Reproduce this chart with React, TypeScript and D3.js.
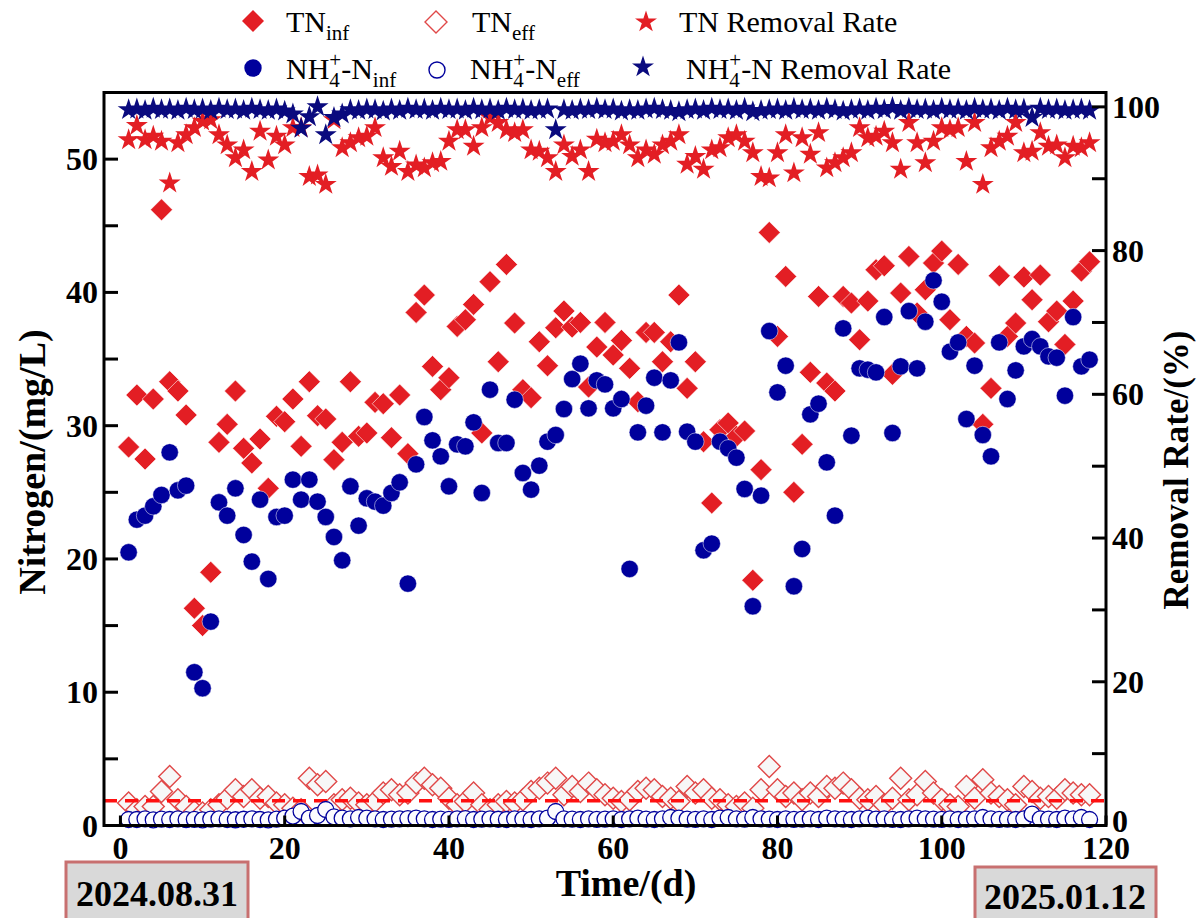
import React from 'react';
import * as d3 from 'd3';

// ---------------- DATA ----------------
const days: number[] = d3.range(1, 119);

const tnInf: number[] = [
  28.4, 32.3, 27.5, 32.0, 46.2, 33.3, 32.6, 30.8, 16.3, 15.0,
  19.0, 28.75, 30.1, 32.6, 28.3, 27.2, 29.0, 25.3, 30.7, 30.3,
  32.0, 28.45, 33.3, 30.75, 30.5, 27.45, 28.75, 33.3, 29.2, 29.45,
  31.75, 31.65, 29.1, 32.3, 27.9, 38.5, 39.8, 34.45, 32.7, 33.6,
  37.45, 37.95, 39.1, 29.45, 40.8, 34.8, 42.1, 37.7, 32.7, 32.1,
  36.3, 34.5, 37.35, 38.6, 37.4, 37.75, 32.9, 35.9, 37.75, 35.3,
  36.4, 34.3, 31.8, 37.0, 37.0, 34.8, 36.3, 39.8, 32.8, 34.8,
  28.8, 24.2, 29.7, 30.2, 29.2, 29.6, 18.4, 26.7, 44.5, 36.7,
  41.2, 25.0, 28.6, 34.0, 39.7, 33.2, 32.6, 39.7, 39.2, 36.45,
  39.35, 41.7, 42.0, 33.85, 39.95, 42.7, 38.45, 40.2, 42.2, 43.1,
  37.95, 42.1, 36.7, 36.2, 30.1, 32.8, 41.25, 36.7, 37.7, 41.15,
  39.45, 41.3, 37.8, 38.6, 36.1, 39.35, 41.6, 42.3,
];

const tnEff: number[] = [
  1.68, 1.18, 1.43, 1.43, 2.55, 3.68, 1.93, 1.43, 1.05, 0.93,
  1.18, 1.55, 2.05, 2.68, 2.18, 2.68, 2.05, 2.18, 1.68, 1.55,
  1.3, 1.18, 3.55, 3.05, 3.3, 1.55, 1.93, 2.05, 1.68, 1.55,
  1.8, 2.43, 2.68, 2.3, 2.43, 3.18, 3.55, 3.05, 2.8, 2.05,
  1.55, 1.8, 2.43, 1.55, 1.18, 1.55, 1.8, 1.68, 1.93, 2.55,
  2.8, 3.18, 3.55, 2.3, 2.93, 2.55, 3.18, 2.68, 2.3, 2.05,
  1.8, 1.93, 2.55, 2.8, 2.68, 2.18, 2.05, 1.8, 2.93, 2.43,
  2.68, 2.05, 1.93, 1.55, 1.43, 1.68, 1.3, 2.68, 4.43, 2.68,
  2.18, 2.43, 1.93, 2.43, 2.18, 2.93, 2.8, 3.18, 2.68, 2.05,
  1.93, 2.18, 1.55, 2.05, 3.55, 1.93, 2.3, 3.3, 2.43, 1.93,
  1.55, 1.43, 2.93, 2.05, 3.43, 2.43, 2.18, 1.93, 1.55, 2.93,
  2.55, 2.05, 2.18, 2.05, 2.68, 2.43, 2.3, 2.3,
];

const nh4Inf: number[] = [
  20.5, 22.95, 23.25, 23.95, 24.8, 28.0, 25.15, 25.5, 11.5, 10.3,
  15.3, 24.25, 23.25, 25.3, 21.8, 19.8, 24.45, 18.5, 23.15, 23.25,
  25.95, 24.45, 25.95, 24.3, 23.15, 21.65, 19.9, 25.45, 22.5, 24.55,
  24.3, 24.0, 24.95, 25.75, 18.15, 27.1, 30.65, 28.9, 27.7, 25.45,
  28.6, 28.45, 30.25, 24.95, 32.7, 28.7, 28.7, 31.95, 26.45, 25.2,
  27.0, 28.8, 29.3, 31.25, 33.5, 34.65, 31.3, 33.4, 33.1, 31.3,
  32.0, 19.25, 29.5, 31.5, 33.6, 29.5, 33.4, 36.25, 29.55, 28.8,
  20.65, 21.15, 28.8, 28.3, 27.6, 25.25, 16.45, 24.75, 37.1, 32.5,
  34.5, 17.95, 20.75, 30.85, 31.65, 27.25, 23.25, 37.3, 29.25, 34.3,
  34.2, 34.0, 38.15, 29.45, 34.45, 38.6, 34.3, 37.8, 40.9, 39.3,
  35.55, 36.25, 30.5, 34.5, 29.3, 27.7, 36.25, 32.0, 34.15, 35.95,
  36.5, 35.95, 35.2, 35.1, 32.25, 38.15, 34.45, 34.95,
];

const nh4Eff: number[] = [
  0.45, 0.45, 0.5, 0.42, 0.48, 0.45, 0.5, 0.44, 0.46, 0.42,
  0.48, 0.5, 0.45, 0.43, 0.47, 0.5, 0.45, 0.42, 0.48, 0.55,
  0.7, 1.05, 0.55, 0.75, 1.2, 0.65, 0.55, 0.5, 0.6, 0.55,
  0.5, 0.45, 0.48, 0.5, 0.52, 0.55, 0.5, 0.45, 0.48, 0.46,
  0.5, 0.52, 0.45, 0.48, 0.5, 0.47, 0.45, 0.5, 0.48, 0.45,
  0.5, 0.55, 1.05, 0.5, 0.48, 0.45, 0.5, 0.46, 0.48, 0.5,
  0.45, 0.5, 0.55, 0.48, 0.45, 0.5, 0.6, 0.55, 0.48, 0.46,
  0.5, 0.45, 0.55, 0.6, 0.5, 0.48, 0.6, 0.5, 0.48, 0.45,
  0.5, 0.46, 0.48, 0.5, 0.45, 0.55, 0.5, 0.48, 0.45, 0.5,
  0.55, 0.48, 0.5, 0.46, 0.45, 0.5, 0.55, 0.5, 0.48, 0.46,
  0.5, 0.45, 0.48, 0.5, 0.6, 0.5, 0.46, 0.48, 0.45, 0.5,
  0.85, 0.5, 0.48, 0.45, 0.55, 0.5, 0.6, 0.45,
];

const tnRemoval: number[] = [
  95.4, 97.4, 95.4, 95.9, 95.2, 89.4, 95.0, 96.1, 97.1, 98.0,
  98.2, 96.1, 94.7, 92.9, 94.0, 91.0, 96.6, 92.6, 95.9, 94.7,
  97.1, 97.1, 90.3, 90.5, 89.2, 98.2, 94.3, 95.0, 95.7, 95.9,
  97.1, 92.9, 91.7, 93.8, 91.0, 91.9, 91.5, 92.2, 92.4, 95.2,
  96.8, 96.8, 94.5, 97.1, 98.5, 97.8, 96.8, 96.4, 96.8, 94.0,
  93.8, 92.9, 91.0, 94.7, 93.1, 94.0, 91.0, 95.5, 95.0, 95.2,
  96.1, 94.7, 92.9, 94.0, 93.4, 94.7, 95.2, 96.1, 92.0, 93.1,
  91.3, 94.0, 94.3, 95.7, 96.1, 95.2, 93.6, 90.3, 90.1, 93.6,
  96.1, 90.8, 95.7, 93.4, 96.4, 91.5, 92.2, 92.9, 93.6, 97.1,
  95.7, 95.9, 96.6, 95.0, 91.3, 97.8, 95.0, 92.2, 95.2, 97.1,
  96.8, 97.1, 92.4, 97.8, 89.2, 94.3, 95.2, 95.9, 97.8, 93.6,
  93.8, 96.4, 94.5, 94.7, 92.9, 94.5, 94.3, 95.0,
];

const nh4Removal: number[] = [
  99.6, 99.7, 99.5, 99.8, 99.6, 99.7, 99.5, 99.8, 99.6, 99.7,
  99.5, 99.8, 99.6, 99.7, 99.5, 99.8, 99.6, 99.5, 99.7, 99.4,
  99.0, 97.0, 98.6, 100.0, 96.1, 98.5, 99.0, 99.6, 99.5, 99.7,
  99.6, 99.4, 99.7, 99.5, 99.8, 99.6, 99.7, 99.5, 99.8, 99.6,
  99.7, 99.5, 99.8, 99.6, 99.7, 99.5, 99.8, 99.6, 99.7, 99.5,
  99.6, 99.7, 96.8, 99.6, 99.5, 99.7, 99.6, 99.8, 99.6, 99.7,
  99.4, 99.6, 99.5, 99.7, 99.8, 99.6, 99.5, 99.3, 99.6, 99.7,
  99.5, 99.8, 99.6, 99.7, 99.5, 99.8, 99.3, 99.5, 99.6, 99.7,
  99.5, 99.8, 99.6, 99.7, 99.5, 99.8, 99.6, 99.4, 99.6, 99.7,
  99.5, 99.8, 99.6, 99.9, 99.5, 99.8, 99.6, 99.7, 99.5, 99.8,
  99.6, 99.7, 99.5, 99.8, 99.6, 99.7, 99.5, 99.8, 99.6, 99.7,
  98.5, 99.8, 99.6, 99.7, 99.5, 99.6, 99.7, 99.5,
];

const leftTicks: number[] = [0, 10, 20, 30, 40, 50];
const leftMinor: number[] = [5, 15, 25, 35, 45];
const rightTicks: number[] = [0, 20, 40, 60, 80, 100];
const rightMinor: number[] = [10, 30, 50, 70, 90];
const bottomTicks: number[] = [0, 20, 40, 60, 80, 100, 120];
const tnLimit = 1.85;
const startDate = '2024.08.31';
const endDate = '2025.01.12';

// ---------------- STYLE ----------------
const RED = '#e31e24';
const BLUE = '#00009c';
const NAVY = '#0a0a7e';
const FONT = '"Liberation Serif", "Times New Roman", serif';

const X0 = 104, X1 = 1106, Y0 = 825.5, Y1 = 92.5;

const x = d3.scaleLinear().domain([-2, 120]).range([X0, X1]);
const yL = d3.scaleLinear().domain([0, 55]).range([Y0, Y1]);
const yR = d3.scaleLinear().domain([0, 102]).range([Y0, Y1]);

const diamondPath = (r: number) => `M0,${-r}L${r},0L0,${r}L${-r},0Z`;
const starPath = d3.symbol(d3.symbolStar, 150)() as string;

export default function App() {
  const tickLen = 14;
  return (
    <svg width={1198} height={918} style={{ position: 'absolute', left: 0, top: 0, background: '#fff' }}
      fontFamily={FONT}>
      <rect x={0} y={0} width={1198} height={918} fill="#fff" />

      {/* TN eff hollow diamonds */}
      {days.map((d, i) => (
        <path key={'te' + i} d={diamondPath(11)} transform={`translate(${x(d)},${yL(tnEff[i])})`}
          fill="#f7f7f7" stroke="#e04848" strokeWidth={1.4} />
      ))}
      {/* limit line */}
      <line x1={X0} x2={X1} y1={yL(tnLimit)} y2={yL(tnLimit)} stroke="#ff1010" strokeWidth={3.5} strokeDasharray="13 8" />
      {/* NH4 eff hollow circles */}
      {days.map((d, i) => (
        <circle key={'ne' + i} cx={x(d)} cy={yL(nh4Eff[i])} r={8} fill="#fcfcff" stroke={BLUE} strokeWidth={1.3} />
      ))}
      {/* TN inf */}
      {days.map((d, i) => (
        <path key={'ti' + i} d={diamondPath(11)} transform={`translate(${x(d)},${yL(tnInf[i])})`}
          fill={RED} stroke="#fff" strokeWidth={0.6} />
      ))}
      {/* NH4 inf */}
      {days.map((d, i) => (
        <circle key={'ni' + i} cx={x(d)} cy={yL(nh4Inf[i])} r={8.7} fill={BLUE} stroke="#fff" strokeWidth={0.5} />
      ))}
      {/* TN removal stars */}
      {days.map((d, i) => (
        <path key={'tr' + i} d={starPath} transform={`translate(${x(d)},${yR(tnRemoval[i])})`} fill={RED} />
      ))}
      {/* NH4 removal stars */}
      {days.map((d, i) => (
        <path key={'nr' + i} d={starPath} transform={`translate(${x(d)},${yR(nh4Removal[i])})`} fill={NAVY} />
      ))}

      {/* frame */}
      <rect x={X0} y={Y1} width={X1 - X0} height={Y0 - Y1} fill="none" stroke="#000" strokeWidth={3} />

      {/* left ticks */}
      {leftTicks.concat(leftMinor).map((t) => (
        <line key={'lt' + t} x1={X0} x2={X0 + tickLen} y1={yL(t)} y2={yL(t)} stroke="#000" strokeWidth={3} />
      ))}
      {leftTicks.map((t) => (
        <text key={'ll' + t} x={X0 - 6} y={yL(t) + 11} textAnchor="end" fontSize={32} fontWeight="bold">{t}</text>
      ))}
      {/* right ticks */}
      {rightTicks.concat(rightMinor).map((t) => (
        <line key={'rt' + t} x1={X1} x2={X1 - tickLen} y1={yR(t)} y2={yR(t)} stroke="#000" strokeWidth={3} />
      ))}
      {rightTicks.map((t) => (
        <text key={'rl' + t} x={X1 + 6} y={yR(t) + (t === 0 ? 6 : 11)} textAnchor="start" fontSize={32} fontWeight="bold">{t}</text>
      ))}
      {/* bottom ticks */}
      {bottomTicks.map((t) => (
        <line key={'bt' + t} x1={x(t)} x2={x(t)} y1={Y0} y2={Y0 - 10} stroke="#000" strokeWidth={3} />
      ))}
      {bottomTicks.map((t) => (
        <text key={'bl' + t} x={x(t)} y={859} textAnchor="middle" fontSize={32} fontWeight="bold">{t}</text>
      ))}

      {/* axis titles */}
      <text transform="translate(45,462) rotate(-90)" textAnchor="middle" fontSize={38} fontWeight="bold">Nitrogen/(mg/L)</text>
      <text transform="translate(1188,470) rotate(-90)" textAnchor="middle" fontSize={35} fontWeight="bold">Removal Rate/(%)</text>
      <text x={626} y={896} textAnchor="middle" fontSize={38} fontWeight="bold">Time/(d)</text>

      {/* date boxes */}
      <rect x={66} y={862} width={182} height={62} fill="#d9d9d9" stroke="#c87070" strokeWidth={3} />
      <text x={157} y={906} textAnchor="middle" fontSize={36} fontWeight="bold">{startDate}</text>
      <rect x={975} y={867} width={181} height={62} fill="#d9d9d9" stroke="#c87070" strokeWidth={3} />
      <text x={1065} y={909} textAnchor="middle" fontSize={36} fontWeight="bold">{endDate}</text>

      {/* legend */}
      <g fontSize={30}>
        <path d={diamondPath(11)} transform="translate(253,21)" fill={RED} />
        <text x={286} y={32}>TN<tspan fontSize={21} dy={8}>inf</tspan></text>
        <path d={diamondPath(11)} transform="translate(436,22)" fill="#fff" stroke="#e04848" strokeWidth={1.4} />
        <text x={472} y={32}>TN<tspan fontSize={21} dy={8}>eff</tspan></text>
        <path d={starPath} transform="translate(646,22)" fill={RED} />
        <text x={679} y={32}>TN Removal Rate</text>

        <circle cx={253} cy={68} r={8.7} fill={BLUE} />
        <text x={286} y={79}>NH<tspan fontSize={21} dy={8}>4</tspan><tspan fontSize={21} dx={-10.5} dy={-20}>+</tspan><tspan dy={12}>-N</tspan><tspan fontSize={21} dy={8}>inf</tspan></text>
        <circle cx={437} cy={70} r={8} fill="#fff" stroke={BLUE} strokeWidth={1.4} />
        <text x={470} y={79}>NH<tspan fontSize={21} dy={8}>4</tspan><tspan fontSize={21} dx={-10.5} dy={-20}>+</tspan><tspan dy={12}>-N</tspan><tspan fontSize={21} dy={8}>eff</tspan></text>
        <path d={starPath} transform="translate(643,67)" fill={NAVY} />
        <text x={686} y={79}>NH<tspan fontSize={21} dy={8}>4</tspan><tspan fontSize={21} dx={-10.5} dy={-20}>+</tspan><tspan dy={12}>-N Removal Rate</tspan></text>
      </g>
    </svg>
  );
}
